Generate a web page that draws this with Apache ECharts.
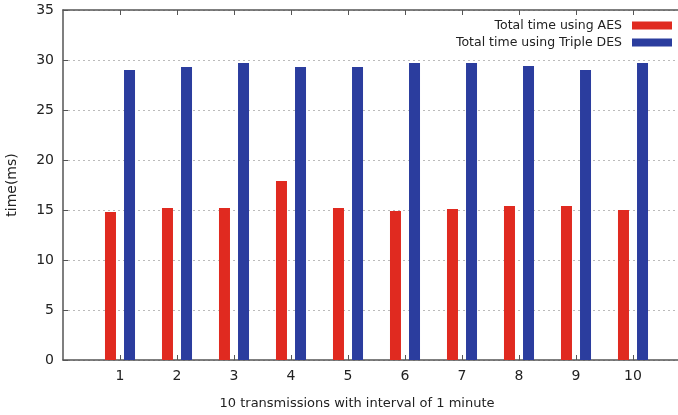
<!DOCTYPE html>
<html><head><meta charset="utf-8">
<script src="https://cdn.jsdelivr.net/npm/echarts@6/dist/echarts.min.js"></script>
<style>html,body{margin:0;padding:0;background:#fff}#c{width:678px;height:415px}</style>
</head><body><div id="c"></div>
<script>
var categories = ['1','2','3','4','5','6','7','8','9','10'];
var aesTimes = [14.8, 15.2, 15.2, 17.9, 15.2, 14.9, 15.1, 15.4, 15.4, 15.0];
var tdesTimes = [29.0, 29.3, 29.7, 29.3, 29.3, 29.7, 29.7, 29.4, 29.0, 29.7];
var yTicks = [0, 5, 10, 15, 20, 25, 30, 35];

var axisCats = [''].concat(categories, ['']);
function pad(a){ return [null].concat(a, [null]); }
var font = 'DejaVu Sans';
var inRange = function(i){ return i >= 1 && i <= categories.length; };

var chart = echarts.init(document.getElementById('c'));
chart.setOption({
  animation: false,
  textStyle: { fontFamily: font },
  grid: { left: 63, top: 10, width: 627, height: 350, outerBoundsMode: 'none', containLabel: false },
  legend: {
    orient: 'vertical', right: 6, top: 19, align: 'right', padding: 0,
    itemWidth: 40, itemHeight: 8, itemGap: 4,
    icon: 'rect',
    textStyle: { fontFamily: font, fontSize: 12.5, color: '#222', padding: [0, 5, 0, 0] },
    data: ['Total time using AES', 'Total time using Triple DES']
  },
  xAxis: [{
    type: 'category', data: axisCats, boundaryGap: false,
    axisLine: { lineStyle: { color: '#555', width: 1.5 } },
    axisTick: { inside: true, length: 5, interval: function(i){ return inRange(i); }, lineStyle: { color: '#555' } },
    axisLabel: { interval: function(i){ return inRange(i); }, fontSize: 14, color: '#222', margin: 9, fontFamily: font },
    splitLine: { show: false }
  }, {
    type: 'category', data: axisCats, boundaryGap: false, position: 'top',
    axisLine: { lineStyle: { color: '#555', width: 1.5 } },
    axisTick: { inside: true, length: 5, interval: function(i){ return inRange(i); }, lineStyle: { color: '#555' } },
    axisLabel: { show: false }
  }],
  yAxis: {
    type: 'value', min: yTicks[0], max: yTicks[yTicks.length-1], interval: 5,
    name: 'time(ms)', nameLocation: 'middle', nameGap: 44,
    nameTextStyle: { fontSize: 14, color: '#222', fontFamily: font },
    axisLine: { show: true, lineStyle: { color: '#555', width: 1.5 } },
    axisTick: { show: true, inside: true, length: 5, lineStyle: { color: '#555' } },
    axisLabel: { fontSize: 14, color: '#222', margin: 9, fontFamily: font },
    splitLine: { show: true, lineStyle: { type: [2, 3], color: '#bbb', width: 1 } }
  },
  graphic: [{
    type: 'text', x: 357, y: 404,
    style: { text: '10 transmissions with interval of 1 minute', textAlign: 'center', textVerticalAlign: 'middle',
             fontSize: 13, fill: '#222', fontFamily: font }
  }],
  series: [{
    name: 'Total time using AES', type: 'bar', data: pad(aesTimes),
    barWidth: 11, barGap: '73%', itemStyle: { color: '#e02a20' }
  }, {
    name: 'Total time using Triple DES', type: 'bar', data: pad(tdesTimes),
    barWidth: 11, barGap: '73%', itemStyle: { color: '#2b3d9e' }
  }]
});
</script></body></html>
